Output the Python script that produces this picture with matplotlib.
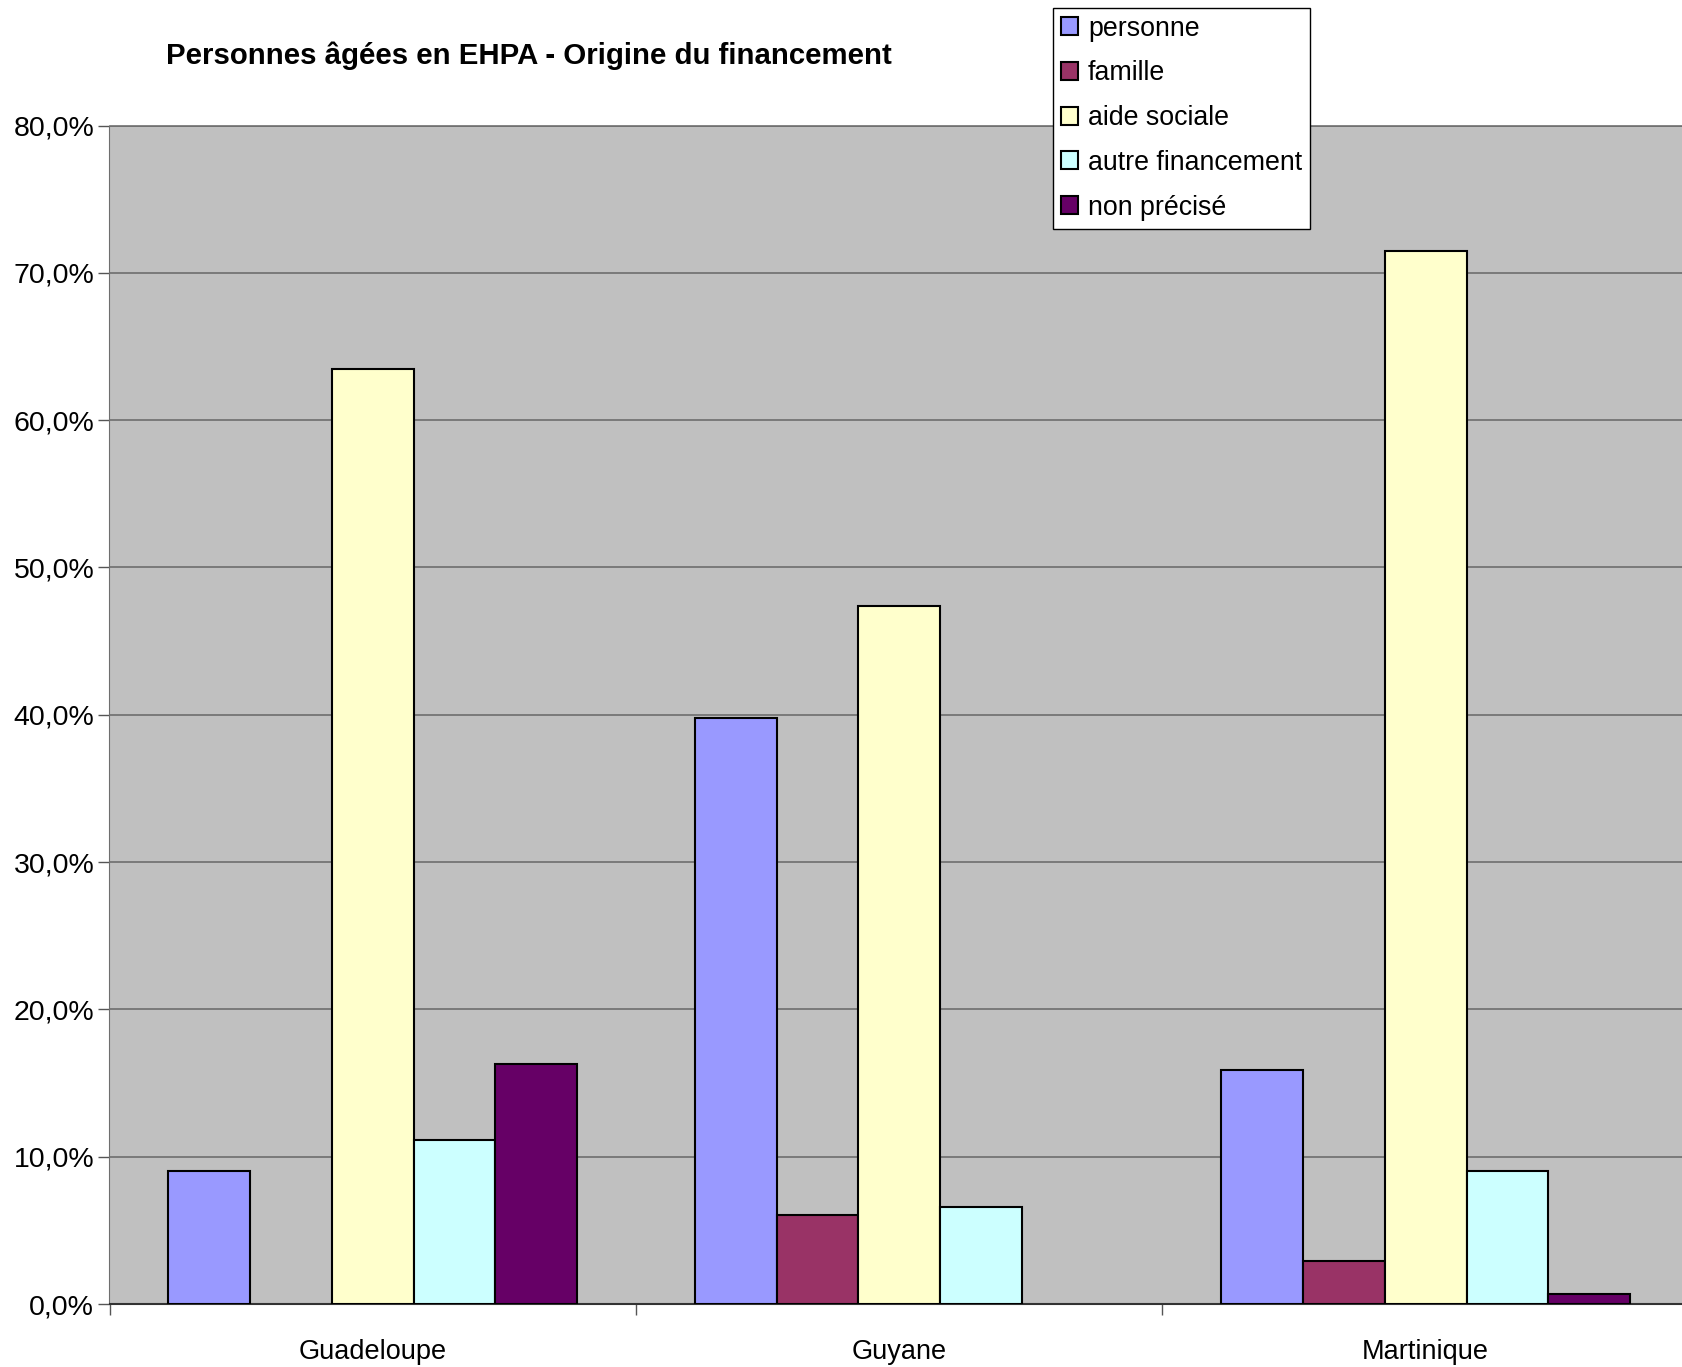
import matplotlib
matplotlib.use("Agg")
import matplotlib.pyplot as plt
import numpy as np
from matplotlib.ticker import FixedLocator, FuncFormatter
from matplotlib.patches import Patch

categories = ["Guadeloupe", "Guyane", "Martinique"]
series = ["personne", "famille", "aide sociale", "autre financement", "non précisé"]
personne = [9.0, 39.8, 15.9]
famille = [0.0, 6.05, 2.9]
aide_sociale = [63.5, 47.4, 71.5]
autre_financement = [11.1, 6.6, 9.0]
non_precise = [16.3, 0.0, 0.7]
colors = ["#9999FF", "#993366", "#FFFFCC", "#CCFFFF", "#660066"]
yticks = [0, 10, 20, 30, 40, 50, 60, 70, 80]

values = [personne, famille, aide_sociale, autre_financement, non_precise]

plt.rcParams['font.family'] = ['Liberation Sans', 'DejaVu Sans']

W, H = 1683, 1367
fig = plt.figure(figsize=(W / 100, H / 100), dpi=100)
left_px, right_px, top_px, bot_px = 109.5, 1689, 125.6, 1304
ax = fig.add_axes([left_px / W, 1 - bot_px / H, (right_px - left_px) / W, (bot_px - top_px) / H])
ax.set_facecolor("#C0C0C0")

x = np.arange(len(categories))
n = len(series)
width = 0.776 / n
for i, (vals, c) in enumerate(zip(values, colors)):
    lws = [0 if v == 0 else 1.5 for v in vals]
    ax.bar(x + (i - (n - 1) / 2) * width, vals, width, color=c,
           edgecolor="black", linewidth=lws, zorder=3, label=series[i])

ax.set_ylim(0, 80)
ax.set_xlim(-0.5, len(categories) - 0.5)
ax.yaxis.set_major_locator(FixedLocator(yticks))
ax.yaxis.set_major_formatter(FuncFormatter(lambda v, p: f"{v:.1f}%".replace(".", ",")))
ax.grid(axis="y", color="#6e6e6e", linewidth=1.2, zorder=1)
ax.set_axisbelow(True)

ax.xaxis.set_major_locator(FixedLocator(np.arange(len(categories) + 1) - 0.5))
ax.xaxis.set_major_formatter(FuncFormatter(lambda v, p: ""))
ax.xaxis.set_minor_locator(FixedLocator(x))
ax.set_xticklabels(categories, minor=True)
ax.tick_params(axis="x", which="minor", length=0, pad=25, labelsize=19.5)
ax.tick_params(axis="x", which="major", length=8, color="#555555", width=1)
ax.tick_params(axis="y", length=8, color="#555555", width=1, labelsize=20.5, pad=3)

ax.spines["right"].set_visible(False)
ax.spines["top"].set_color("#6e6e6e")
ax.spines["top"].set_linewidth(1.2)
ax.spines["left"].set_color("#6e6e6e")
ax.spines["bottom"].set_color("#333333")
ax.spines["bottom"].set_linewidth(1.5)

fig.text(166 / W, 1 - 56 / H, "Personnes âgées en EHPA - Origine du financement",
         fontsize=21.2, fontweight="bold", ha="left", va="center")

handles = [Patch(facecolor=c, edgecolor="black", linewidth=1.5) for c in colors]
leg = fig.legend(handles, series, loc="upper left",
                 bbox_to_anchor=(1053 / W, 1 - 7.5 / H),
                 frameon=True, fancybox=False, fontsize=19.3,
                 handlelength=0.65, handleheight=0.65, handletextpad=0.35,
                 labelspacing=0.7, borderpad=0.3, borderaxespad=0)
leg.get_frame().set_edgecolor("black")
leg.get_frame().set_linewidth(1.0)
leg.get_frame().set_facecolor("white")
leg.get_frame().set_alpha(1)

fig.savefig("out.png", dpi=100)
